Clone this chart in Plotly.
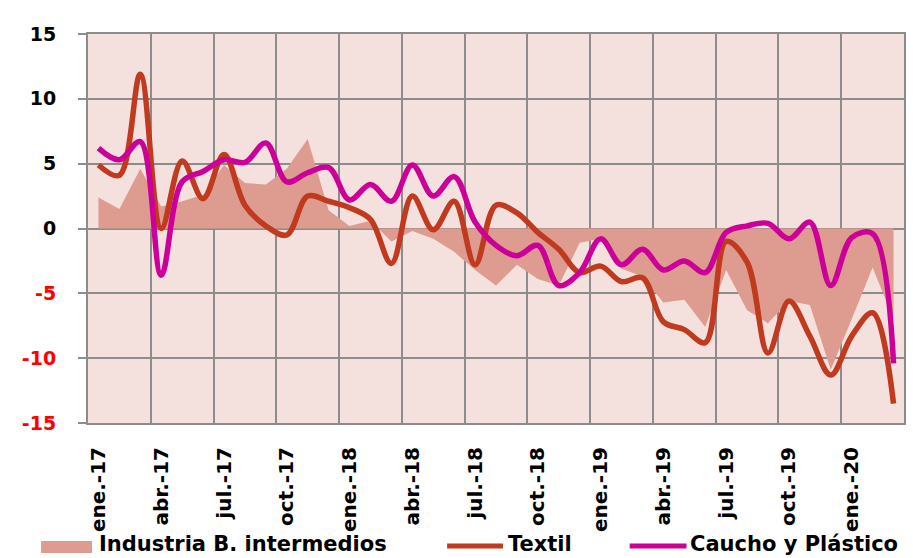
import plotly.graph_objects as go

# ---------------- data ----------------
months = [
    "ene.-17", "feb.-17", "mar.-17", "abr.-17", "may.-17", "jun.-17", "jul.-17", "ago.-17", "sep.-17", "oct.-17", "nov.-17", "dic.-17",
    "ene.-18", "feb.-18", "mar.-18", "abr.-18", "may.-18", "jun.-18", "jul.-18", "ago.-18", "sep.-18", "oct.-18", "nov.-18", "dic.-18",
    "ene.-19", "feb.-19", "mar.-19", "abr.-19", "may.-19", "jun.-19", "jul.-19", "ago.-19", "sep.-19", "oct.-19", "nov.-19", "dic.-19",
    "ene.-20", "feb.-20", "mar.-20",
]
tick_labels = ["ene.-17", "abr.-17", "jul.-17", "oct.-17", "ene.-18", "abr.-18", "jul.-18",
               "oct.-18", "ene.-19", "abr.-19", "jul.-19", "oct.-19", "ene.-20"]

industria = [2.4, 1.5, 4.6, 1.7, 2.1, 2.6, 4.9, 3.5, 3.4, 4.6, 6.9, 1.4, 0.2,
             0.6, -1.0, -0.2, -0.8, -1.8, -3.2, -4.4, -2.8, -3.9, -4.4, -1.1,
             -0.8, -3.1, -3.7, -5.7, -5.5, -7.6, -3.2, -6.3, -7.3, -5.6, -5.9,
             -10.9, -7.0, -3.0, -7.0]
textil = [4.9, 4.1, 11.9, 0.0, 5.2, 2.3, 5.7, 1.8, 0.2, -0.5, 2.5, 2.1, 1.6,
          0.7, -2.7, 2.5, -0.1, 2.1, -2.8, 1.8, 1.2, -0.3, -1.6, -3.4, -2.9,
          -4.1, -3.8, -7.2, -7.8, -8.8, -1.0, -2.6, -9.6, -5.6, -8.3, -11.3,
          -8.3, -6.5, -13.5]
caucho = [6.2, 5.3, 6.7, -3.6, 3.6, 4.4, 5.3, 5.1, 6.6, 3.6, 4.3, 4.7, 2.2,
          3.4, 2.1, 4.9, 2.5, 4.0, 0.5, -1.3, -2.1, -1.3, -4.4, -3.4, -0.8,
          -2.8, -1.6, -3.2, -2.5, -3.4, -0.3, 0.2, 0.4, -0.8, 0.5, -4.4, -0.7,
          -0.4, -10.4]
y_ticks = [-15, -10, -5, 0, 5, 10, 15]
series_names = ["Industria B. intermedios", "Textil", "Caucho y Plástico"]

# ---------------- style ----------------
AREA = "#DE9B8F"
TEXTIL = "#BF3A1E"
CAUCHO = "#CC0099"
BG = "#F4E1DE"
GRID = "#8C8C8C"
FONT = "DejaVu Sans"

W, H = 913, 558
ML, MR, MT, MB = 88, 7, 34, 135
PW, PH = W - ML - MR, H - MT - MB


def px2paper_x(px):
    return (px - ML) / PW


def px2paper_y(py):
    return (H - MB - py) / PH


x = list(range(len(months)))
tick_pos = [i for i, m in enumerate(months) if m in tick_labels]
boundaries = [i - 0.5 for i in range(0, len(months) + 1, 3)]
minor_bounds = [i + 0.5 for i in range(len(months) - 1)]

fig = go.Figure()
fig.add_trace(go.Scatter(x=x, y=industria, mode="lines", fill="tozeroy",
                         fillcolor=AREA, line=dict(width=0, color=AREA),
                         name=series_names[0], showlegend=False))
fig.add_trace(go.Scatter(x=x, y=textil, mode="lines",
                         line=dict(color=TEXTIL, width=5.5, shape="spline", smoothing=1),
                         name=series_names[1], showlegend=False))
fig.add_trace(go.Scatter(x=x, y=caucho, mode="lines",
                         line=dict(color=CAUCHO, width=5.5, shape="spline", smoothing=1),
                         name=series_names[2], showlegend=False))

ytext = [("<span style='color:#FF0000'>%d</span>" % v) if v < 0 else str(v) for v in y_ticks]

fig.update_layout(
    width=W, height=H,
    margin=dict(l=ML, r=MR, t=MT, b=MB, pad=0),
    paper_bgcolor="white", plot_bgcolor=BG,
    font=dict(family=FONT, color="black"),
    showlegend=False,
    xaxis=dict(
        range=[-0.5, len(months) - 0.5],
        tickmode="array", tickvals=tick_pos, ticktext=tick_labels,
        tickangle=-90, tickfont=dict(family=FONT, size=20, weight="bold", color="black"),
        ticks="", showgrid=False, zeroline=False,
        showline=True, mirror=True, linecolor=GRID, linewidth=2,
        ticklabelstandoff=14,
        minor=dict(tickmode="array", tickvals=boundaries, showgrid=True,
                   gridcolor=GRID, gridwidth=2, ticks=""),
    ),
    xaxis2=dict(
        overlaying="x", anchor="free", position=0.5,
        range=[-0.5, len(months) - 0.5],
        tickmode="array", tickvals=minor_bounds, ticks="outside", ticklen=4,
        tickwidth=1.5, tickcolor=GRID, showticklabels=False,
        showgrid=False, zeroline=False, showline=False,
    ),
    yaxis=dict(
        range=[-15, 15], tickmode="array", tickvals=y_ticks, ticktext=ytext,
        tickfont=dict(family=FONT, size=19, weight="bold", color="black"),
        ticks="outside", ticklen=8, tickwidth=2, tickcolor=GRID,
        showgrid=True, gridcolor=GRID, gridwidth=2, zeroline=False,
        showline=True, mirror=True, linecolor=GRID, linewidth=2,
        ticklabelstandoff=18,
    ),
)

# ---------------- manual legend ----------------
leg_y = px2paper_y(546)
shapes = [
    dict(type="rect", xref="paper", yref="paper",
         x0=px2paper_x(41), x1=px2paper_x(92), y0=px2paper_y(553), y1=px2paper_y(541),
         fillcolor=AREA, line=dict(width=0)),
    dict(type="line", xref="paper", yref="paper",
         x0=px2paper_x(448), x1=px2paper_x(504), y0=leg_y, y1=leg_y,
         line=dict(color=TEXTIL, width=5)),
    dict(type="line", xref="paper", yref="paper",
         x0=px2paper_x(631), x1=px2paper_x(688), y0=leg_y, y1=leg_y,
         line=dict(color=CAUCHO, width=5)),
]
fig.update_layout(shapes=shapes)
for name, tx in zip(series_names, [97, 507, 689]):
    fig.add_annotation(x=px2paper_x(tx), y=px2paper_y(544), xref="paper", yref="paper",
                       xanchor="left", yanchor="middle", showarrow=False,
                       text=name, font=dict(family=FONT, size=21, weight="bold", color="black"))

fig.write_html("out.html", config={"displayModeBar": False},
               post_script="document.body.style.margin='0';document.body.style.overflow='hidden';")
